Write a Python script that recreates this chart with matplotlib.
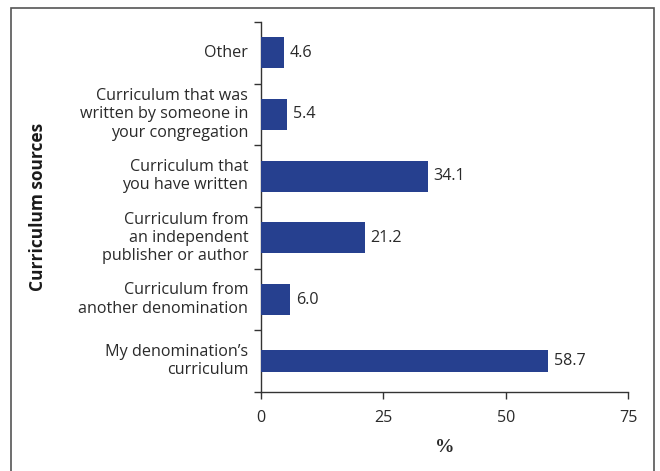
import matplotlib
matplotlib.use("Agg")
import matplotlib.pyplot as plt
from matplotlib.patches import Rectangle

categories = [
    "My denomination\u2019s\ncurriculum",
    "Curriculum from\nanother denomination",
    "Curriculum from\nan independent\npublisher or author",
    "Curriculum that\nyou have written",
    "Curriculum that was\nwritten by someone in\nyour congregation",
    "Other",
]
values = [58.7, 6.0, 21.2, 34.1, 5.4, 4.6]
value_labels = ["58.7", "6.0", "21.2", "34.1", "5.4", "4.6"]
x_ticks = [0, 25, 50, 75]

bar_color = "#26408F"
text_color = "#2a2a2a"
plt.rcParams["font.family"] = ["Open Sans", "DejaVu Sans"]
fs = 11.6

fig = plt.figure(figsize=(6.6, 4.71), dpi=100)
ax = fig.add_axes([261 / 660, 1 - 392 / 471, (628 - 261) / 660, (392 - 22) / 471])

heights = [0.35, 0.5, 0.5, 0.5, 0.5, 0.5]
ypos = list(range(len(categories)))
ax.barh(ypos, values, height=heights, color=bar_color, zorder=3)

for y, v, lab in zip(ypos, values, value_labels):
    ax.text(v + 1.2, y, lab, va="center", ha="left", fontsize=fs, color=text_color)

ax.set_xlim(0, 75)
ax.set_ylim(-0.5, len(categories) - 0.5)
ax.set_xticks(x_ticks)
ax.set_xticklabels([str(t) for t in x_ticks], fontsize=fs, color=text_color)
ax.set_yticks([y - 0.5 for y in ypos] + [len(categories) - 0.5])
ax.set_yticklabels([])
for y, c in zip(ypos, categories):
    ax.text(-2.6, y, c, ha="right", va="center", fontsize=fs, color=text_color,
            linespacing=1.17)

for side in ("top", "right"):
    ax.spines[side].set_visible(False)
for side in ("left", "bottom"):
    ax.spines[side].set_color("#333333")
    ax.spines[side].set_linewidth(1.0)
ax.tick_params(axis="x", direction="out", length=5, width=1, color="#333333", pad=8)
ax.tick_params(axis="y", direction="out", length=5, width=1, color="#333333")

ax.set_xlabel("%", fontsize=14, fontweight="bold", family="Liberation Serif",
              color=text_color, labelpad=9)
fig.text(38 / 660, 1 - 207 / 471, "Curriculum sources", rotation=90, ha="center",
         va="center", fontsize=12.5, fontweight="bold", color="#1a1a1a")

frame = Rectangle((11 / 660, -0.05), (654 - 11) / 660, 1 - 8 / 471 + 0.05,
                  transform=fig.transFigure, fill=False, edgecolor="#555555",
                  linewidth=1.2)
fig.patches.append(frame)

fig.savefig("out.png", dpi=100)
